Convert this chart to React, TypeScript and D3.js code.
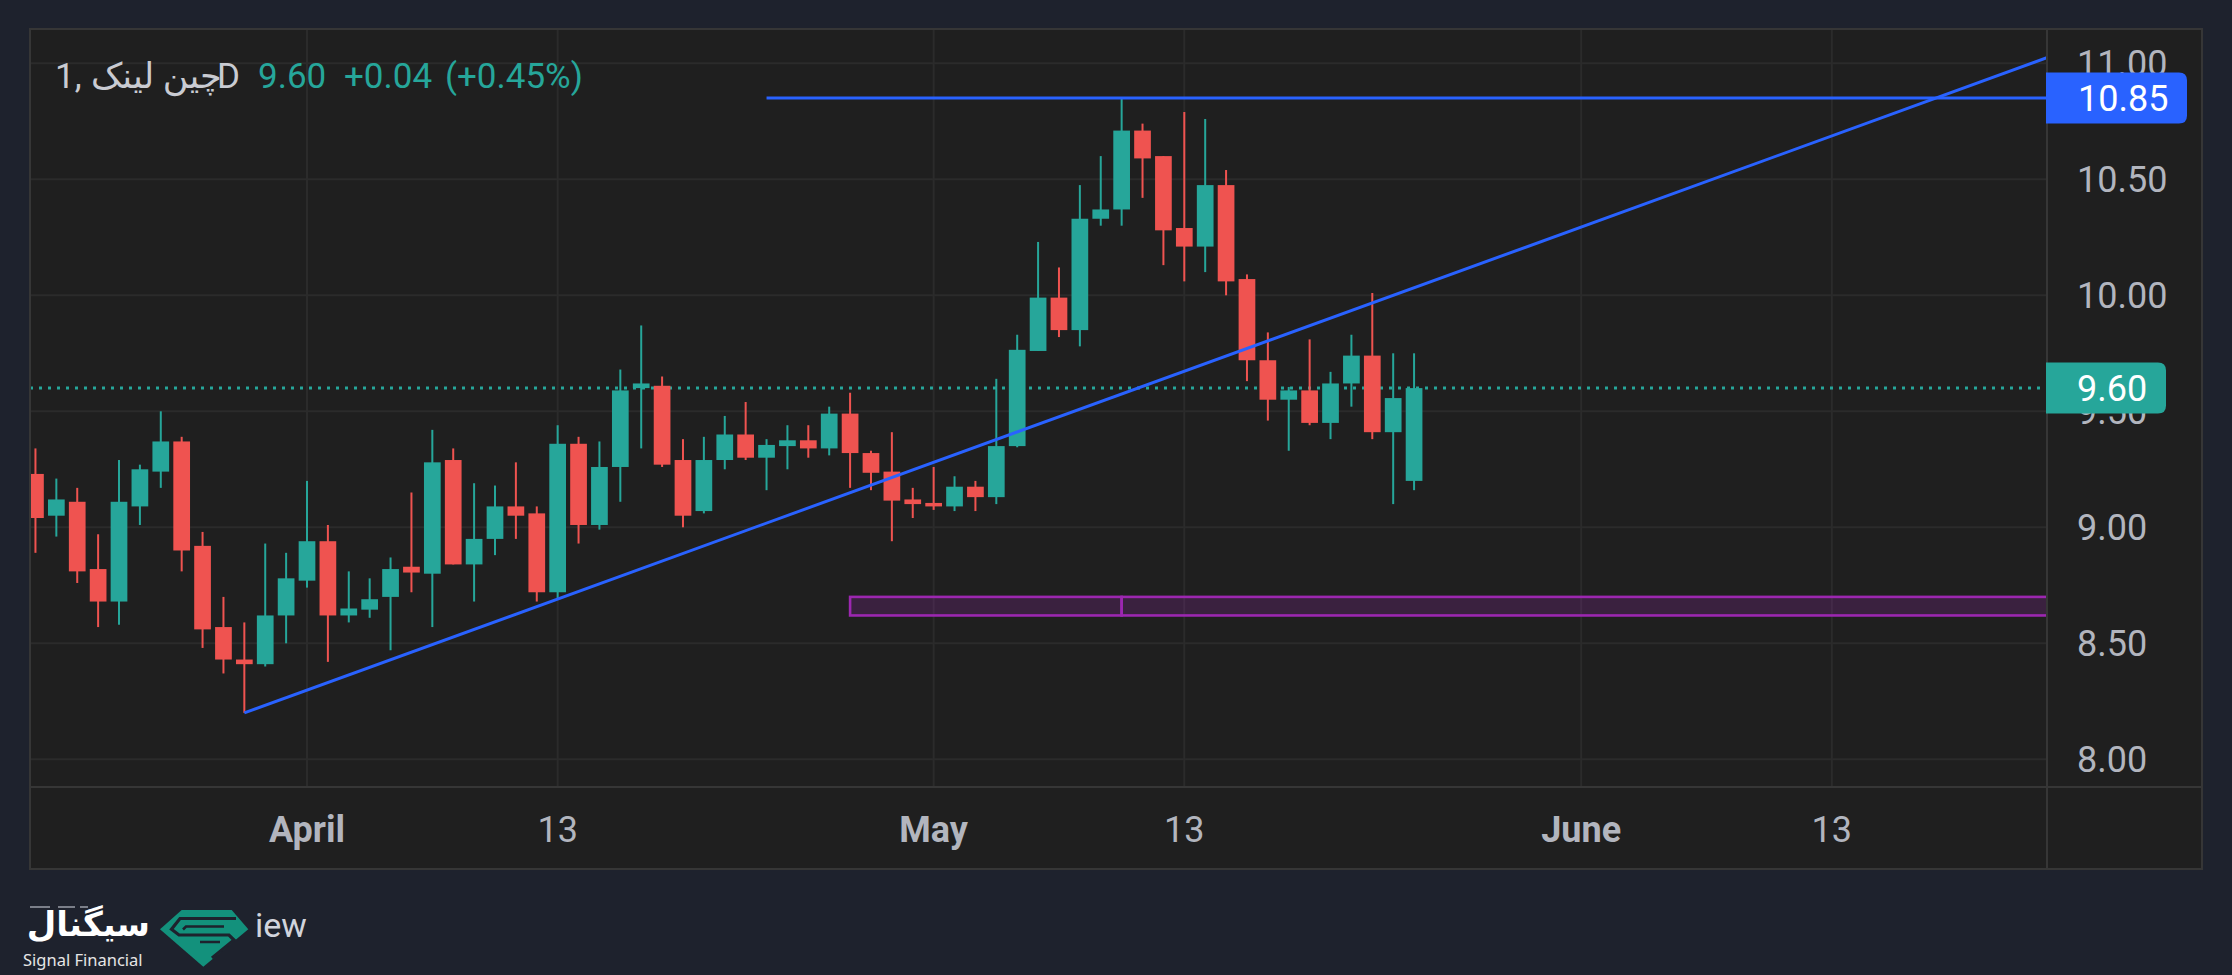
import React from 'react';
import * as d3 from 'd3';

// ---- data ----
const dates = [
  '2025-03-19','2025-03-20','2025-03-21','2025-03-22','2025-03-23','2025-03-24','2025-03-25','2025-03-26','2025-03-27','2025-03-28',
  '2025-03-29','2025-03-30','2025-03-31','2025-04-01','2025-04-02','2025-04-03','2025-04-04','2025-04-05','2025-04-06','2025-04-07',
  '2025-04-08','2025-04-09','2025-04-10','2025-04-11','2025-04-12','2025-04-13','2025-04-14','2025-04-15','2025-04-16','2025-04-17',
  '2025-04-18','2025-04-19','2025-04-20','2025-04-21','2025-04-22','2025-04-23','2025-04-24','2025-04-25','2025-04-26','2025-04-27',
  '2025-04-28','2025-04-29','2025-04-30','2025-05-01','2025-05-02','2025-05-03','2025-05-04','2025-05-05','2025-05-06','2025-05-07',
  '2025-05-08','2025-05-09','2025-05-10','2025-05-11','2025-05-12','2025-05-13','2025-05-14','2025-05-15','2025-05-16','2025-05-17',
  '2025-05-18','2025-05-19','2025-05-20','2025-05-21','2025-05-22','2025-05-23','2025-05-24',
];
const opens = [
  9.23, 9.05, 9.11, 8.82, 8.68, 9.09, 9.24, 9.37, 8.92, 8.57,
  8.43, 8.41, 8.62, 8.77, 8.94, 8.62, 8.645, 8.70, 8.83, 8.80,
  9.29, 8.84, 8.95, 9.09, 9.06, 8.72, 9.36, 9.01, 9.26, 9.60,
  9.61, 9.29, 9.07, 9.29, 9.40, 9.30, 9.35, 9.375, 9.34, 9.49,
  9.32, 9.24, 9.12, 9.105, 9.09, 9.175, 9.13, 9.35, 9.76, 9.99,
  9.85, 10.33, 10.37, 10.71, 10.60, 10.29, 10.21, 10.475, 10.07, 9.72,
  9.55, 9.59, 9.45, 9.62, 9.74, 9.41, 9.20,
];
const highs = [
  9.34, 9.21, 9.17, 8.97, 9.29, 9.27, 9.50, 9.39, 8.98, 8.70,
  8.59, 8.93, 8.89, 9.20, 9.01, 8.81, 8.78, 8.87, 9.15, 9.42,
  9.34, 9.19, 9.18, 9.28, 9.09, 9.44, 9.39, 9.37, 9.68, 9.87,
  9.65, 9.38, 9.39, 9.48, 9.54, 9.38, 9.44, 9.44, 9.52, 9.58,
  9.33, 9.41, 9.17, 9.26, 9.22, 9.20, 9.64, 9.83, 10.23, 10.12,
  10.475, 10.60, 10.85, 10.74, 10.60, 10.79, 10.76, 10.54, 10.09, 9.84,
  9.605, 9.81, 9.67, 9.83, 10.01, 9.75, 9.75,
];
const lows = [
  8.89, 8.96, 8.76, 8.57, 8.58, 9.01, 9.17, 8.81, 8.48, 8.37,
  8.20, 8.40, 8.50, 8.74, 8.42, 8.59, 8.61, 8.47, 8.72, 8.57,
  8.84, 8.68, 8.88, 8.95, 8.68, 8.69, 8.93, 8.99, 9.11, 9.34,
  9.26, 9.00, 9.06, 9.25, 9.29, 9.16, 9.25, 9.30, 9.31, 9.17,
  9.16, 8.94, 9.04, 9.075, 9.07, 9.07, 9.10, 9.345, 9.76, 9.82,
  9.78, 10.30, 10.30, 10.42, 10.13, 10.06, 10.10, 10.00, 9.63, 9.46,
  9.33, 9.44, 9.38, 9.52, 9.38, 9.10, 9.16,
];
const closes = [
  9.04, 9.12, 8.81, 8.68, 9.11, 9.25, 9.37, 8.90, 8.56, 8.43,
  8.41, 8.62, 8.78, 8.94, 8.62, 8.65, 8.69, 8.82, 8.805, 9.28,
  8.84, 8.95, 9.09, 9.05, 8.72, 9.36, 9.01, 9.26, 9.59, 9.62,
  9.27, 9.05, 9.29, 9.40, 9.30, 9.355, 9.375, 9.34, 9.49, 9.32,
  9.235, 9.115, 9.10, 9.09, 9.175, 9.13, 9.35, 9.765, 9.99, 9.85,
  10.33, 10.37, 10.71, 10.59, 10.28, 10.21, 10.475, 10.06, 9.72, 9.55,
  9.59, 9.45, 9.62, 9.74, 9.41, 9.557, 9.60,
];

const priceTicks = [8, 8.5, 9, 9.5, 10, 10.5, 11];
const timeTickDates = ['2025-04-01', '2025-04-13', '2025-05-01', '2025-05-13', '2025-06-01', '2025-06-13'];
const timeTickLabels = ['April', '13', 'May', '13', 'June', '13'];
const timeTickBold = [true, false, true, false, true, false];

const lastPrice = 9.6;
const titleSymbol = 'چین لینک';
const titleValues = ['9.60', '+0.04', '(+0.45%)'];

const resistancePrice = 10.85;
const resistanceStart = '2025-04-23';
const trendDates = ['2025-03-29', '2025-06-24'];
const trendPrices = [8.2, 11.047];
const zoneDates = ['2025-04-27', '2025-05-10'];
const zonePrices = [8.62, 8.70];

// ---- layout ----
const W = 2232;
const H = 975;
const panelL = 30;
const panelT = 29;
const plotR = 2047;
const plotB = 787;
const axisR = 2202;
const panelB = 869;

const COLORS = {
  page: '#1e222d',
  panel: '#1f1f1f',
  grid: '#2b2b2b',
  border: '#363636',
  text: '#b2b5be',
  up: '#26a69a',
  down: '#ef5350',
  blue: '#2962ff',
  purple: '#9c27b0',
};

const FONT = "Roboto, 'DejaVu Sans', sans-serif";

export default function App() {
  const parse = (s: string) => new Date(s + 'T00:00:00Z');
  const x = d3
    .scaleUtc()
    .domain([parse('2025-04-01'), parse('2025-05-13')])
    .range([307, 1184.3]);
  const y = d3.scaleLinear().domain([8, 11]).range([759.3, 63.3]);
  const dayW = x(parse('2025-04-02')) - x(parse('2025-04-01'));
  const bodyW = dayW * 0.8;

  const candles = dates.map((d, i) => ({
    x: x(parse(d)),
    o: opens[i],
    h: highs[i],
    l: lows[i],
    c: closes[i],
  }));

  const trendLine = d3
    .line<[number, number]>()
    .x((d) => d[0])
    .y((d) => d[1])(trendDates.map((d, i) => [x(parse(d)), y(trendPrices[i])]));

  const z0 = x(parse(zoneDates[0]));
  const z1 = x(parse(zoneDates[1]));
  const zTop = y(zonePrices[1]);
  const zBot = y(zonePrices[0]);

  const resY = y(resistancePrice);
  const lastY = y(lastPrice);

  const labelBox = (yc: number, w: number) => {
    const h = 51;
    const r = 8;
    const x0 = plotR - 1;
    const top = yc - h / 2;
    return `M${x0},${top} H${x0 + w - r} Q${x0 + w},${top} ${x0 + w},${top + r} V${top + h - r} Q${x0 + w},${top + h} ${x0 + w - r},${top + h} H${x0} Z`;
  };

  return (
    <svg
      width={W}
      height={H}
      style={{ position: 'absolute', left: 0, top: 0, display: 'block' }}
      fontFamily={FONT}
    >
      <defs>
        <clipPath id="plotClip">
          <rect x={panelL} y={panelT} width={plotR - panelL} height={plotB - panelT} />
        </clipPath>
      </defs>
      <rect x={0} y={0} width={W} height={H} fill={COLORS.page} />
      <rect x={panelL} y={panelT} width={axisR - panelL} height={panelB - panelT} fill={COLORS.panel} />

      {/* grid */}
      <g clipPath="url(#plotClip)">
        {priceTicks.map((p) => (
          <line key={'h' + p} x1={panelL} x2={plotR} y1={y(p)} y2={y(p)} stroke={COLORS.grid} strokeWidth={2} />
        ))}
        {timeTickDates.map((d) => (
          <line key={'v' + d} x1={x(parse(d))} x2={x(parse(d))} y1={panelT} y2={plotB} stroke={COLORS.grid} strokeWidth={2} />
        ))}
      </g>

      {/* drawings under candles */}
      <g clipPath="url(#plotClip)">
        <rect x={z0} y={zTop} width={z1 - z0} height={zBot - zTop} fill="rgba(156,39,176,0.22)" stroke={COLORS.purple} strokeWidth={2.6} />
        <rect x={z1} y={zTop} width={plotR + 5 - z1} height={zBot - zTop} fill="rgba(156,39,176,0.22)" stroke={COLORS.purple} strokeWidth={2.6} />
        <line x1={panelL} x2={plotR} y1={lastY} y2={lastY} stroke={COLORS.up} strokeWidth={3} strokeDasharray="3 6" />
      </g>

      {/* candles */}
      <g clipPath="url(#plotClip)">
        {candles.map((k, i) => {
          const col = k.c >= k.o ? COLORS.up : COLORS.down;
          const top = y(Math.max(k.o, k.c));
          const bot = y(Math.min(k.o, k.c));
          return (
            <g key={i}>
              <rect x={k.x - 1} y={y(k.h)} width={2} height={y(k.l) - y(k.h)} fill={col} />
              <rect x={k.x - bodyW / 2} y={top} width={bodyW} height={Math.max(2, bot - top)} fill={col} />
            </g>
          );
        })}
      </g>

      {/* drawings over candles */}
      <g clipPath="url(#plotClip)">
        <path d={trendLine ?? ''} stroke={COLORS.blue} strokeWidth={3} fill="none" />
        <line x1={x(parse(resistanceStart))} x2={plotR} y1={resY} y2={resY} stroke={COLORS.blue} strokeWidth={3} />
      </g>

      {/* borders */}
      <rect x={panelL} y={panelT} width={axisR - panelL} height={panelB - panelT} fill="none" stroke={COLORS.border} strokeWidth={2} />
      <line x1={plotR} x2={plotR} y1={panelT} y2={panelB} stroke={COLORS.border} strokeWidth={2} />
      <line x1={panelL} x2={axisR} y1={plotB} y2={plotB} stroke={COLORS.border} strokeWidth={2} />

      {/* price axis labels */}
      {priceTicks.map((p) => (
        <text key={'pt' + p} x={2077} y={y(p) + 12.7} fontSize={36} fill={COLORS.text}>
          {p.toFixed(2)}
        </text>
      ))}

      {/* price labels */}
      <path d={labelBox(resY, 141)} fill={COLORS.blue} />
      <text x={2078} y={resY + 12.7} fontSize={36} fill="#ffffff">
        {resistancePrice.toFixed(2)}
      </text>
      <path d={labelBox(lastY, 120)} fill={COLORS.up} />
      <text x={2077} y={lastY + 12.7} fontSize={36} fill="#ffffff">
        {lastPrice.toFixed(2)}
      </text>

      {/* time axis labels */}
      {timeTickDates.map((d, i) => (
        <text
          key={'tt' + d}
          x={x(parse(d))}
          y={841.7}
          fontSize={36}
          fontWeight={timeTickBold[i] ? 700 : 400}
          fill={COLORS.text}
          textAnchor="middle"
        >
          {timeTickLabels[i]}
        </text>
      ))}

      {/* title */}
      <g fontSize={35}>
        <text x={55} y={88} fill="#c9cbd2">1,</text>
        <text x={91} y={88} fill="#c9cbd2">{titleSymbol}</text>
        <text x={217} y={88} fill="#c9cbd2">D</text>
        <text x={258} y={88} fill={COLORS.up}>{titleValues[0]}</text>
        <text x={344} y={88} fill={COLORS.up}>{titleValues[1]}</text>
        <text x={445} y={88} fill={COLORS.up}>{titleValues[2]}</text>
      </g>

      {/* logo */}
      <g>
        <line x1={30} x2={50} y1={907} y2={907} stroke="#d1d4dc" strokeWidth={1.5} opacity={0.7} />
        <line x1={58} x2={75} y1={907} y2={907} stroke="#d1d4dc" strokeWidth={1.5} opacity={0.7} />
        <line x1={80} x2={88} y1={907} y2={907} stroke="#d1d4dc" strokeWidth={1.5} opacity={0.7} />
        <text x={150} y={936} fontSize={34} fontWeight={700} fill="#ffffff" textAnchor="end" fontFamily="'DejaVu Sans', sans-serif">
          سیگنال
        </text>
        <text x={23} y={966} fontSize={16.5} fill="#e6e6e6" fontFamily="'Noto Sans', 'DejaVu Sans', sans-serif">
          Signal Financial
        </text>
        <path d="M181.7,910 L231.7,910 L248.3,929.3 L203.3,966.7 L160,929.3 Z" fill="#13917c" />
        <path d="M236,918.5 L180,918.5 L171.5,929.3 L179,935 L229,935 L234,940 L212,958" stroke={COLORS.page} strokeWidth={3.2} fill="none" />
        <path d="M224,926.5 L186,926.5 L183,929.5 M200,942 L220,942" stroke={COLORS.page} strokeWidth={2.6} fill="none" />
        <text x={255} y={937} fontSize={34} fill="#d1d4dc" fontFamily="Roboto, sans-serif">
          iew
        </text>
      </g>
    </svg>
  );
}
